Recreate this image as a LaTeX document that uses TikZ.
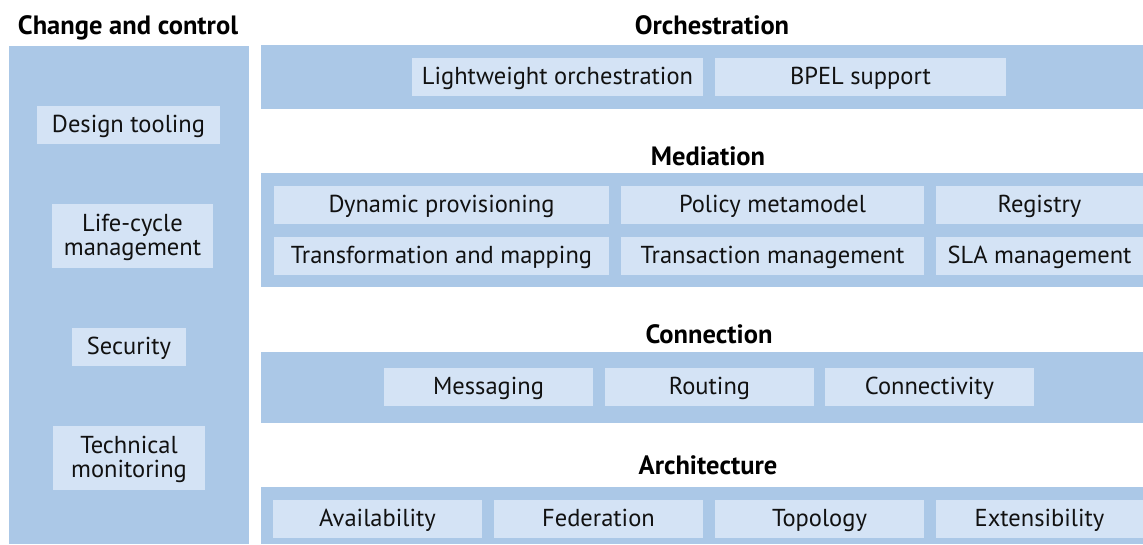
\documentclass[tikz,border=0pt]{standalone}
\usepackage{fontspec}
\setmainfont{PT Sans}
\definecolor{panelc}{RGB}{171,200,231}
\definecolor{boxc}{RGB}{212,227,245}
\definecolor{txtc}{RGB}{17,17,17}
\begin{document}
\begin{tikzpicture}[x=1pt,y=-1pt,
  panel/.style={fill=panelc},
  box/.style={fill=boxc, inner sep=0pt, align=center, text=txtc,
    font=\fontsize{24.5}{24}\selectfont, minimum height=38pt,
    text height=19pt, text depth=5pt},
  tall/.style={minimum height=64pt, text height=43pt, text depth=5pt},
  title/.style={inner sep=0pt, anchor=base, text=black, font=\fontsize{26.5}{28}\selectfont\bfseries}]
\useasboundingbox (0,0) rectangle (1143,544);
% panels
\fill[panel] (9,46) rectangle (249,544);
\fill[panel] (261,45) rectangle (1143,109);
\fill[panel] (261,173) rectangle (1143,287);
\fill[panel] (261,352) rectangle (1143,423);
\fill[panel] (261,487) rectangle (1143,544);
% titles
\node[title] (tcc) at (128,34) {Change and control};
\node[title] (torch) at (712,34) {Orchestration};
\node[title] (tmed) at (708,165) {Mediation};
\node[title] (tcon) at (709,343) {Connection};
\node[title] (tarch) at (708,474) {Architecture};
% left column
\node[box, minimum width=183pt] (design) at (128.5,125) {Design tooling};
\node[box, tall, minimum width=161pt] (life) at (132.5,236) {Life-cycle\\management};
\node[box, minimum width=114pt] (sec) at (129,347) {Security};
\node[box, tall, minimum width=152pt] (tech) at (129,458) {Technical\\monitoring};
% orchestration
\node[box, minimum width=291pt] (lw) at (557.5,77) {Lightweight orchestration};
\node[box, minimum width=291pt] (bpel) at (860.5,77) {BPEL support};
% mediation
\node[box, minimum width=335pt] (dyn) at (441.5,205) {Dynamic provisioning};
\node[box, minimum width=303pt] (pol) at (772.5,205) {Policy metamodel};
\node[box, minimum width=207pt] (reg) at (1039.5,205) {Registry};
\node[box, minimum width=335pt] (trans) at (441.5,256) {Transformation and mapping};
\node[box, minimum width=303pt] (tx) at (772.5,256) {Transaction management};
\node[box, minimum width=207pt] (sla) at (1039.5,256) {SLA management};
% connection
\node[box, minimum width=209pt] (msg) at (488.5,387) {Messaging};
\node[box, minimum width=209pt] (rout) at (709.5,387) {Routing};
\node[box, minimum width=209pt] (conn) at (929.5,387) {Connectivity};
% architecture
\node[box, minimum width=209pt] (avail) at (377.5,519) {Availability};
\node[box, minimum width=209pt] (fed) at (598.5,519) {Federation};
\node[box, minimum width=209pt] (topo) at (819.5,519) {Topology};
\node[box, minimum width=207pt] (ext) at (1039.5,519) {Extensibility};
\end{tikzpicture}
\end{document}
